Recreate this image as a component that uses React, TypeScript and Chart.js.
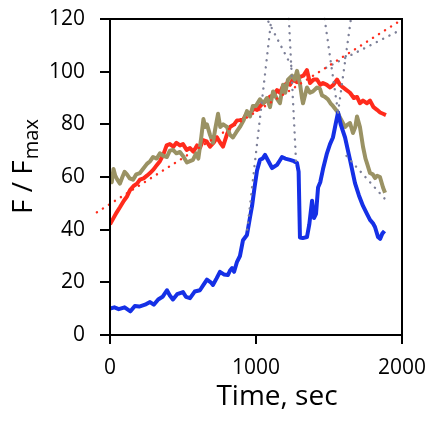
import React, { useEffect, useRef } from "react";
import { Chart, registerables } from "chart.js";

Chart.register(...registerables);

const FONT = "'Open Sans', sans-serif";

const X_TITLE = "Time, sec";
const Y_TITLE_MAIN = "F / F";
const Y_TITLE_SUB = "max";

const X_MIN = 0;
const X_MAX = 2000;
const X_STEP = 1000;
const Y_MIN = 0;
const Y_MAX = 120;
const Y_STEP = 20;

const blueT = [0, 30, 60, 100, 140, 170, 200, 240, 274, 300, 330, 360, 390, 410, 431, 460, 500, 520, 548, 580, 616, 640, 664, 690, 705, 730, 753, 780, 808, 822, 836, 850, 870, 890, 911, 938, 960, 973, 990, 1007, 1027, 1045, 1062, 1085, 1110, 1144, 1160, 1178, 1200, 1233, 1260, 1281, 1292, 1301, 1320, 1349, 1365, 1384, 1397, 1411, 1425, 1440, 1459, 1486, 1507, 1527, 1545, 1562, 1580, 1610, 1644, 1678, 1705, 1733, 1760, 1781, 1800, 1815, 1836, 1850, 1865, 1880];
const blueY = [10, 10.5, 9.8, 10.5, 9, 11, 10.8, 11.5, 12.5, 11.5, 13.5, 14.5, 17, 15, 13.5, 15.5, 16.3, 14.5, 14, 16.5, 17, 19, 21, 20, 19, 21.5, 24, 23, 22.8, 24.5, 25.4, 24, 27.8, 30, 36, 38, 45, 49, 56, 62.5, 66.5, 67, 68.4, 66, 63.4, 64.6, 66, 67.6, 67, 66.5, 66, 65.3, 62, 37, 36.8, 37.2, 42, 51, 44.4, 46, 56, 58, 63, 69, 72.5, 75, 80, 84.5, 80, 75, 66.5, 57.7, 53, 49, 46, 43.7, 42.5, 41, 37.2, 36.5, 38.5, 39.5];

const redT = [0, 20, 45, 68, 95, 115, 137, 160, 185, 205, 230, 253, 274, 300, 320, 342, 365, 388, 410, 434, 455, 479, 500, 525, 548, 571, 596, 616, 637, 662, 685, 710, 733, 755, 774, 800, 822, 850, 870, 890, 915, 940, 959, 985, 1007, 1030, 1048, 1070, 1096, 1120, 1144, 1164, 1185, 1212, 1233, 1253, 1280, 1301, 1325, 1349, 1360, 1370, 1395, 1418, 1440, 1459, 1485, 1507, 1530, 1555, 1575, 1596, 1620, 1644, 1670, 1692, 1712, 1733, 1760, 1781, 1805, 1829, 1850, 1870, 1890];
const redY = [42, 44, 46.5, 48.5, 51, 52.5, 55, 56.5, 57.5, 59, 59.5, 60.5, 61.5, 63, 64.5, 66, 68.5, 72, 72.5, 71.5, 73, 72, 72.5, 70.3, 71, 69.6, 72, 71, 74, 73.5, 71.5, 73, 75, 73, 71.5, 76, 79, 80, 81.5, 81.6, 82, 84.5, 84, 86, 85.5, 87, 88, 89, 90.5, 91, 93, 92, 94.5, 95.6, 95, 97, 96, 98, 98.5, 100.6, 98, 95.7, 97, 97, 95, 95.7, 95, 94, 95, 97, 95, 94, 93, 92, 90, 90.4, 88, 89, 88, 89, 86.5, 85.5, 84.5, 84, 83.5];

const oliveT = [0, 12, 24, 36, 50, 68, 85, 100, 116, 135, 158, 180, 205, 226, 253, 275, 295, 320, 342, 365, 390, 410, 432, 455, 479, 500, 527, 548, 568, 590, 605, 625, 640, 652, 664, 685, 705, 720, 740, 755, 775, 801, 822, 842, 865, 890, 915, 938, 959, 979, 1000, 1027, 1050, 1075, 1096, 1117, 1140, 1164, 1185, 1200, 1219, 1247, 1265, 1281, 1301, 1315, 1322, 1349, 1370, 1390, 1418, 1438, 1452, 1470, 1493, 1510, 1527, 1555, 1575, 1595, 1610, 1630, 1644, 1664, 1680, 1692, 1712, 1733, 1750, 1760, 1781, 1800, 1815, 1830, 1849, 1870, 1884];
const oliveY = [60.5, 58, 63, 60.5, 59, 57.5, 60, 62, 61, 59.5, 59, 61, 61.5, 63, 65, 66, 67.6, 67, 69, 68, 67.6, 70, 70.3, 69, 69.5, 68, 65.5, 66, 66.5, 69, 67, 75, 82, 79, 80, 76, 73, 78, 84, 79, 80, 79, 76, 75, 77, 79, 81.5, 85, 83, 87, 87, 89.5, 88, 90, 86.5, 92.5, 90, 88, 95, 92, 97, 98.5, 97, 100.3, 95.5, 90, 88, 94, 92, 92.5, 94, 93.5, 91, 90.5, 89.5, 88, 87, 85, 82.6, 80.5, 79, 80, 80.5, 76.7, 79, 83, 79, 71.5, 67, 65.3, 61.5, 61, 59.6, 60.5, 60, 56, 54];

// dotted fit lines: [t0, t1] and [y0, y1]
const redTrendT = [-90, 2000];
const redTrendY = [46.6, 119.8];
const grayFitT = [
  [940, 1105],
  [1225, 1275],
  [1085, 1262],
  [1470, 1562],
  [1562, 1650],
  [1620, 1910],
  [1480, 1960],
];
const grayFitY = [
  [40, 120],
  [120, 65],
  [119, 100],
  [120, 84.5],
  [84.5, 120],
  [68, 50],
  [101.5, 115],
];

const RED = "#ff2b1c";
const OLIVE = "#9a9264";
const BLUE = "#1530e6";
const GRAY_DOT = "#7d8098";

const toPts = (t: number[], y: number[]) => t.map((v, i) => ({ x: v, y: y[i] }));

const framePlugin = {
  id: "frameAndTitles",
  afterDraw(chart: any) {
    const { ctx, chartArea } = chart;
    ctx.save();
    ctx.strokeStyle = "#000";
    ctx.lineWidth = 2;
    ctx.strokeRect(chartArea.left, chartArea.top, chartArea.right - chartArea.left, chartArea.bottom - chartArea.top);
    ctx.fillStyle = "#000";
    ctx.font = `28px ${FONT}`;
    ctx.textAlign = "center";
    ctx.textBaseline = "alphabetic";
    ctx.fillText(X_TITLE, 277, 405);
    ctx.translate(32, 167);
    ctx.rotate(-Math.PI / 2);
    ctx.textAlign = "left";
    ctx.font = `28px ${FONT}`;
    const w1 = ctx.measureText(Y_TITLE_MAIN).width;
    ctx.font = `20px ${FONT}`;
    const w2 = ctx.measureText(Y_TITLE_SUB).width;
    const start = -(w1 + w2) / 2;
    ctx.font = `28px ${FONT}`;
    ctx.fillText(Y_TITLE_MAIN, start, 0);
    ctx.font = `20px ${FONT}`;
    ctx.fillText(Y_TITLE_SUB, start + w1 + 1, 6);
    ctx.restore();
  },
};

export default function App() {
  const ref = useRef<HTMLCanvasElement | null>(null);
  useEffect(() => {
    if (!ref.current) return;
    const dotted = (color: string) => ({
      borderColor: color,
      borderWidth: 2.4,
      borderDash: [0.1, 7],
      borderCapStyle: "round" as const,
      pointRadius: 0,
      fill: false,
      clip: false as any,
    });
    const solid = (color: string) => ({
      borderColor: color,
      borderWidth: 4,
      pointRadius: 0,
      fill: false,
      tension: 0,
      borderJoinStyle: "round" as const,
    });
    const datasets: any[] = [
      { label: "redTrend", data: toPts(redTrendT, redTrendY), ...dotted(RED) },
      ...grayFitT.map((t, i) => ({ label: "fit" + i, data: toPts(t, grayFitY[i]), ...dotted(GRAY_DOT) })),
      { label: "blue", data: toPts(blueT, blueY), ...solid(BLUE) },
      { label: "olive", data: toPts(oliveT, oliveY), ...solid(OLIVE) },
      { label: "red", data: toPts(redT, redY), ...solid(RED) },
    ];
    const tickFont = { family: FONT, size: 21 };
    const chart = new Chart(ref.current, {
      type: "line",
      data: { datasets },
      plugins: [framePlugin],
      options: {
        responsive: false,
        animation: false,
        layout: { padding: { top: 19, right: 31, left: 0, bottom: 0 } },
        plugins: { legend: { display: false }, tooltip: { enabled: false } },
        scales: {
          x: {
            type: "linear",
            min: X_MIN,
            max: X_MAX,
            ticks: {
              stepSize: X_STEP,
              font: tickFont,
              color: "#000",
              padding: 11,
              maxRotation: 0,
              callback: (v: any) => String(v),
            },
            grid: { drawOnChartArea: false, drawTicks: true, tickLength: 9, color: "#000", lineWidth: 2 },
            border: { display: true, color: "#000", width: 2 },
            afterFit: (s: any) => {
              s.height = 88;
              s.paddingLeft = 0;
              s.paddingRight = 0;
            },
          },
          y: {
            type: "linear",
            min: Y_MIN,
            max: Y_MAX,
            ticks: { stepSize: Y_STEP, font: tickFont, color: "#000", padding: 15, callback: (v: any) => String(v) },
            grid: { drawOnChartArea: false, drawTicks: true, tickLength: 10, color: "#000", lineWidth: 2 },
            border: { display: true, color: "#000", width: 2 },
            afterFit: (s: any) => {
              s.width = 110;
              s.paddingTop = 0;
              s.paddingBottom = 0;
            },
          },
        },
      },
    });
    return () => chart.destroy();
  }, []);
  return (
    <div style={{ position: "fixed", left: 0, top: 0, width: 433, height: 423, background: "#fff" }}>
      <canvas ref={ref} width={433} height={423} style={{ display: "block" }} />
    </div>
  );
}
